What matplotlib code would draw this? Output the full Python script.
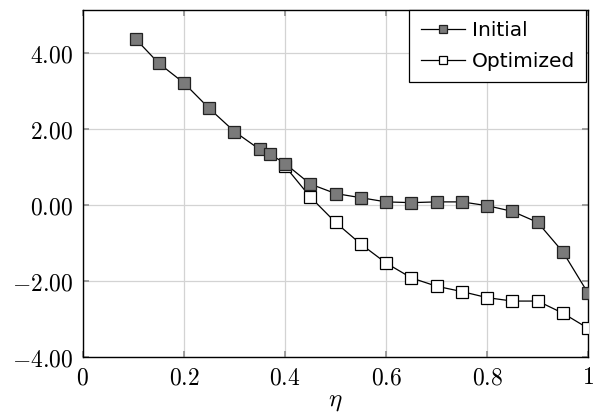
import matplotlib
matplotlib.use("Agg")
import matplotlib.pyplot as plt

plt.rcParams['mathtext.fontset'] = 'cm'
plt.rcParams['font.family'] = ['DejaVu Sans']

eta_initial = [0.105, 0.15, 0.2, 0.25, 0.3, 0.35, 0.37, 0.4, 0.45, 0.5, 0.55, 0.6,
               0.65, 0.7, 0.75, 0.8, 0.85, 0.9, 0.95, 1.0]
initial = [4.36, 3.73, 3.21, 2.54, 1.93, 1.46, 1.34, 1.09, 0.55, 0.30, 0.19, 0.08,
           0.06, 0.08, 0.08, -0.02, -0.17, -0.46, -1.24, -2.33]

eta_opt = [0.4, 0.45, 0.5, 0.55, 0.6, 0.65, 0.7, 0.75, 0.8, 0.85, 0.9, 0.95, 1.0]
optimized = [1.02, 0.21, -0.46, -1.03, -1.53, -1.92, -2.14, -2.28, -2.44, -2.53,
             -2.53, -2.85, -3.25]

x_ticks = [0, 0.2, 0.4, 0.6, 0.8, 1.0]
x_tick_labels = ['0', '0.2', '0.4', '0.6', '0.8', '1']
y_ticks = [-4, -2, 0, 2, 4]
y_tick_labels = ['\u22124.00', '\u22122.00', '0.00', '2.00', '4.00']

fig = plt.figure(figsize=(5.96, 4.16), dpi=100)
ax = fig.add_axes([0.139, 0.142, 0.848, 0.834])

ax.plot(eta_opt, optimized, color='black', lw=0.9, marker='s', markersize=8,
        markerfacecolor='white', markeredgecolor='black', markeredgewidth=0.9,
        label='Optimized', zorder=3)
ax.plot(eta_initial, initial, color='black', lw=0.9, marker='s', markersize=8,
        markerfacecolor='#7a7a7a', markeredgecolor='#222222', markeredgewidth=0.9,
        label='Initial', zorder=4)

ax.set_xlim(0, 1)
ax.set_ylim(-4, 5.13)
ax.set_xticks(x_ticks)
ax.set_xticklabels(['$' + t + '$' for t in x_tick_labels], fontsize=17)
ax.set_yticks(y_ticks)
ax.set_yticklabels(['$' + t.replace('\u2212', '-') + '$' for t in y_tick_labels], fontsize=17)
ax.grid(True, color='#d3d3d3', lw=0.9)
ax.set_axisbelow(True)
ax.tick_params(direction='in', length=4, width=1.2, color='#909090',
               top=True, right=True)
ax.tick_params(axis='y', pad=7)
ax.tick_params(axis='x', pad=6)
for s in ax.spines.values():
    s.set_linewidth(1.0)
    s.set_color('black')
ax.set_xlabel(r'$\eta$', fontsize=18, labelpad=0)

handles, labels = ax.get_legend_handles_labels()
leg = ax.legend(handles[::-1], labels[::-1], loc='upper right',
                bbox_to_anchor=(0.996, 1.0), fontsize=14.5,
                frameon=True, fancybox=False, framealpha=1, edgecolor='black',
                handlelength=2.2, handletextpad=0.35, borderaxespad=0.0,
                borderpad=0.55, labelspacing=0.6, markerscale=0.75)
leg.get_frame().set_linewidth(0.9)

fig.savefig('out.png', dpi=100)
